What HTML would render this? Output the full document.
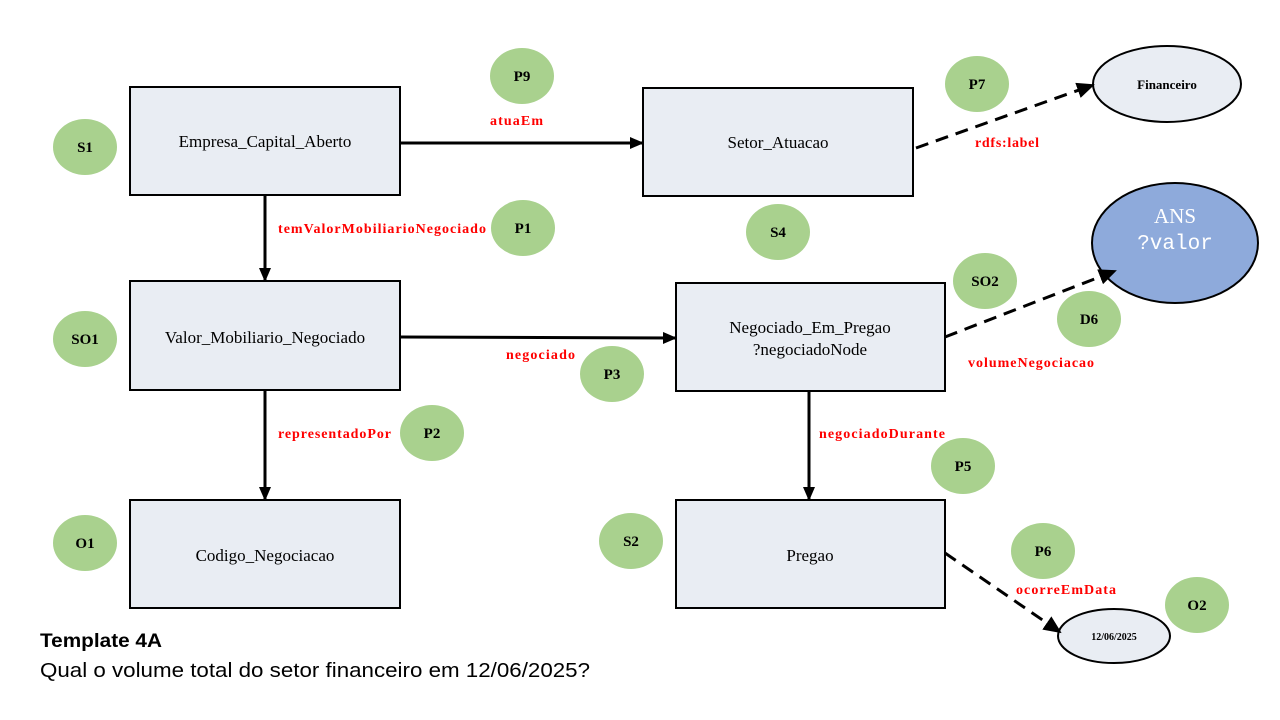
<!DOCTYPE html>
<html><head><meta charset="utf-8"><style>html,body{margin:0;padding:0;background:#fff}svg{display:block}</style></head>
<body>
<svg width="1280" height="720" viewBox="0 0 1280 720" xmlns="http://www.w3.org/2000/svg">
<defs>
<marker id="a" markerWidth="14" markerHeight="12" refX="13" refY="6" orient="auto" markerUnits="userSpaceOnUse"><path d="M0,0 L14,6 L0,12 z" fill="#000"/></marker>
<marker id="b" markerWidth="18" markerHeight="16" refX="16" refY="8" orient="auto" markerUnits="userSpaceOnUse"><path d="M0,0 L18,8 L0,16 z" fill="#000"/></marker>
</defs>
<g fill="#e9edf3" stroke="#000" stroke-width="2">
<rect x="130" y="87" width="270" height="108"/>
<rect x="643" y="88" width="270" height="108"/>
<rect x="130" y="281" width="270" height="109"/>
<rect x="676" y="283" width="269" height="108"/>
<rect x="130" y="500" width="270" height="108"/>
<rect x="676" y="500" width="269" height="108"/>
<ellipse cx="1167" cy="84" rx="74" ry="38"/>
<ellipse cx="1114" cy="636" rx="56" ry="27"/>
</g>
<ellipse cx="1175" cy="243" rx="83" ry="60" fill="#8eaadb" stroke="#000" stroke-width="2"/>
<g font-family="Liberation Serif, serif" font-size="17" text-anchor="middle" fill="#000">
<text x="265" y="147">Empresa_Capital_Aberto</text>
<text x="778" y="148">Setor_Atuacao</text>
<text x="265" y="343">Valor_Mobiliario_Negociado</text>
<text x="810" y="333">Negociado_Em_Pregao</text>
<text x="810" y="355">?negociadoNode</text>
<text x="265" y="561">Codigo_Negociacao</text>
<text x="810" y="561">Pregao</text>
<text x="1167" y="89" font-size="13" font-weight="bold">Financeiro</text>
<text x="1114" y="640" font-size="10" font-weight="bold">12/06/2025</text>
<text x="1175" y="223" font-size="21" fill="#fff">ANS</text>
</g>
<text x="1175" y="249" font-family="Liberation Mono, monospace" font-size="21" fill="#fff" text-anchor="middle">?valor</text>
<g stroke="#000" stroke-width="3" fill="none">
<line x1="400" y1="143" x2="643" y2="143" marker-end="url(#a)"/>
<line x1="265" y1="195" x2="265" y2="281" marker-end="url(#a)"/>
<line x1="400" y1="337" x2="676" y2="338" marker-end="url(#a)"/>
<line x1="265" y1="390" x2="265" y2="500" marker-end="url(#a)"/>
<line x1="809" y1="391" x2="809" y2="500" marker-end="url(#a)"/>
<g stroke-dasharray="13,8">
<line x1="916" y1="148" x2="1093" y2="85" marker-end="url(#b)"/>
<line x1="945" y1="337" x2="1115" y2="271" marker-end="url(#b)"/>
<line x1="945" y1="553" x2="1060" y2="632" marker-end="url(#b)"/>
</g>
</g>
<g fill="#a9d18e">
<ellipse cx="85" cy="147" rx="32" ry="28"/><ellipse cx="522" cy="76" rx="32" ry="28"/>
<ellipse cx="977" cy="84" rx="32" ry="28"/><ellipse cx="523" cy="228" rx="32" ry="28"/>
<ellipse cx="778" cy="232" rx="32" ry="28"/><ellipse cx="985" cy="281" rx="32" ry="28"/>
<ellipse cx="1089" cy="319" rx="32" ry="28"/><ellipse cx="85" cy="339" rx="32" ry="28"/>
<ellipse cx="612" cy="374" rx="32" ry="28"/><ellipse cx="432" cy="433" rx="32" ry="28"/>
<ellipse cx="963" cy="466" rx="32" ry="28"/><ellipse cx="85" cy="543" rx="32" ry="28"/>
<ellipse cx="631" cy="541" rx="32" ry="28"/><ellipse cx="1043" cy="551" rx="32" ry="28"/>
<ellipse cx="1197" cy="605" rx="32" ry="28"/>
</g>
<g font-family="Liberation Serif, serif" font-size="15" font-weight="bold" text-anchor="middle" fill="#000">
<text x="85" y="152">S1</text><text x="522" y="81">P9</text><text x="977" y="89">P7</text>
<text x="523" y="233">P1</text><text x="778" y="237">S4</text><text x="985" y="286">SO2</text>
<text x="1089" y="324">D6</text><text x="85" y="344">SO1</text><text x="612" y="379">P3</text>
<text x="432" y="438">P2</text><text x="963" y="471">P5</text><text x="85" y="548">O1</text>
<text x="631" y="546">S2</text><text x="1043" y="556">P6</text><text x="1197" y="610">O2</text>
</g>
<g font-family="Liberation Serif, serif" font-size="14" font-weight="bold" fill="#ff0000" lengthAdjust="spacingAndGlyphs">
<text x="490" y="125" textLength="53">atuaEm</text>
<text x="278" y="233" textLength="208">temValorMobiliarioNegociado</text>
<text x="506" y="359" textLength="69">negociado</text>
<text x="278" y="438" textLength="113">representadoPor</text>
<text x="819" y="438" textLength="126">negociadoDurante</text>
<text x="975" y="147" textLength="64">rdfs:label</text>
<text x="968" y="367" textLength="126">volumeNegociacao</text>
<text x="1016" y="594" textLength="100">ocorreEmData</text>
</g>
<text x="40" y="647" font-family="Liberation Sans, sans-serif" font-size="19" font-weight="bold" textLength="122" lengthAdjust="spacingAndGlyphs">Template 4A</text>
<text x="40" y="677" font-family="Liberation Sans, sans-serif" font-size="20" textLength="550" lengthAdjust="spacingAndGlyphs">Qual o volume total do setor financeiro em 12/06/2025?</text>
</svg>
</body></html>
